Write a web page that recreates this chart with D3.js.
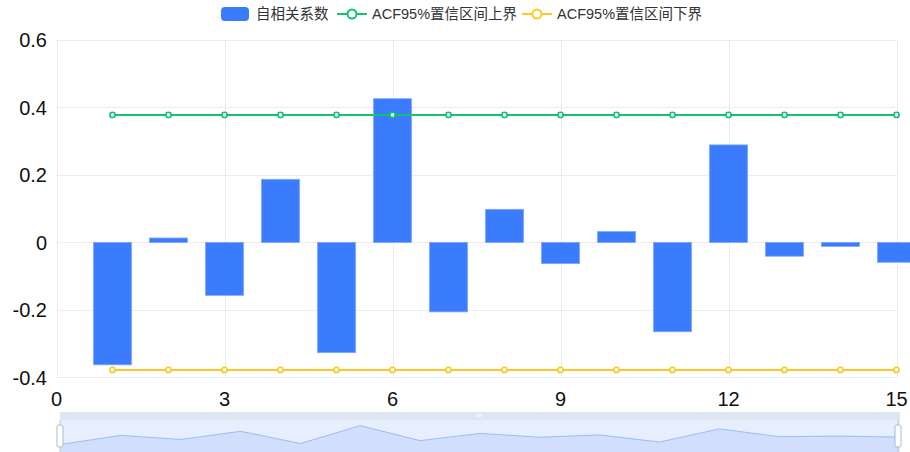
<!DOCTYPE html>
<html>
<head>
<meta charset="utf-8">
<script src="https://cdn.jsdelivr.net/npm/d3@7/dist/d3.min.js"></script>
<style>
  html, body { margin: 0; padding: 0; background: #fff; }
  svg { display: block; }
</style>
</head>
<body>
<div id="chart"></div>
<script>
// lag numbers and series values
const lags = [1, 2, 3, 4, 5, 6, 7, 8, 9, 10, 11, 12, 13, 14, 15];
const acf = [-0.363, 0.013, -0.157, 0.187, -0.327, 0.426, -0.206, 0.098, -0.063, 0.032, -0.265, 0.289, -0.041, -0.012, -0.059];
const upper = [0.378, 0.378, 0.378, 0.378, 0.378, 0.378, 0.378, 0.378, 0.378, 0.378, 0.378, 0.378, 0.378, 0.378, 0.378];
const lower = [-0.378, -0.378, -0.378, -0.378, -0.378, -0.378, -0.378, -0.378, -0.378, -0.378, -0.378, -0.378, -0.378, -0.378, -0.378];
const xTicks = [0, 3, 6, 9, 12, 15];
const yTicks = [-0.4, -0.2, 0, 0.2, 0.4, 0.6];
const seriesNames = ["自相关系数", "ACF95%置信区间上界", "ACF95%置信区间下界"];

const W = 910, H = 452;
const blue = "#3b7cff", green = "#12c26d", yellow = "#ffc823";
const fontLatin = "'Liberation Sans', Arial, sans-serif";
const fontCjk = "'Liberation Sans', 'Noto Sans CJK SC', sans-serif";

const svg = d3.select("#chart").append("svg")
  .attr("width", W)
  .attr("height", H);

const x = d3.scaleLinear().domain([0, 15]).range([56.5, 896.5]);
const y = d3.scaleLinear().domain([-0.4, 0.6]).range([377.3, 40]);
const barW = 38;

// grid lines
const grid = svg.append("g");
grid.selectAll("line.h")
  .data(yTicks)
  .join("line")
  .attr("class", "h")
  .attr("x1", x(0)).attr("x2", x(15))
  .attr("y1", d => Math.round(y(d)) + 0.5).attr("y2", d => Math.round(y(d)) + 0.5)
  .attr("stroke", "#eaecf2");
grid.selectAll("line.v")
  .data(xTicks)
  .join("line")
  .attr("class", "v")
  .attr("y1", y(0.6)).attr("y2", y(-0.4))
  .attr("x1", d => Math.round(x(d)) + 0.5).attr("x2", d => Math.round(x(d)) + 0.5)
  .attr("stroke", "#eaecf2");

// y labels
svg.append("g")
  .selectAll("text")
  .data(yTicks)
  .join("text")
  .attr("x", 47)
  .attr("y", d => y(d))
  .attr("dy", "0.36em")
  .attr("text-anchor", "end")
  .attr("font-family", fontLatin)
  .attr("font-size", 20)
  .attr("fill", "#111")
  .text(d => d === 0 ? "0" : d.toFixed(1));

// x labels
svg.append("g")
  .selectAll("text")
  .data(xTicks)
  .join("text")
  .attr("x", d => x(d))
  .attr("y", 406)
  .attr("text-anchor", "middle")
  .attr("font-family", fontLatin)
  .attr("font-size", 20)
  .attr("fill", "#111")
  .text(d => d);

// bars
svg.append("g")
  .selectAll("rect")
  .data(lags)
  .join("rect")
  .attr("x", (d, i) => x(d) - barW / 2)
  .attr("y", (d, i) => y(Math.max(0, acf[i])))
  .attr("width", barW)
  .attr("height", (d, i) => Math.abs(y(acf[i]) - y(0)))
  .attr("fill", blue)
  .attr("stroke", "#7ea6ff")
  .attr("stroke-width", 0.8);

// confidence lines
function drawLine(vals, color) {
  const g = svg.append("g");
  g.append("path")
    .datum(lags)
    .attr("d", d3.line().x(d => x(d)).y((d, i) => y(vals[i])))
    .attr("fill", "none")
    .attr("stroke", color)
    .attr("stroke-width", 2);
  g.selectAll("circle")
    .data(lags)
    .join("circle")
    .attr("cx", d => x(d))
    .attr("cy", (d, i) => y(vals[i]))
    .attr("r", 2.6)
    .attr("fill", "#fff")
    .attr("stroke", color)
    .attr("stroke-width", 1.6);
}
drawLine(upper, green);
drawLine(lower, yellow);

// legend
const legend = svg.append("g").attr("font-family", fontCjk).attr("font-size", 14.5).attr("fill", "#333");
const legendX = [221, 337, 522];
const legendColors = [blue, green, yellow];
seriesNames.forEach((name, i) => {
  const g = legend.append("g").attr("transform", `translate(${legendX[i]},14)`);
  if (i === 0) {
    g.append("rect")
      .attr("x", 0).attr("y", -7)
      .attr("width", 28).attr("height", 14)
      .attr("rx", 4)
      .attr("fill", legendColors[i]);
  } else {
    g.append("line")
      .attr("x1", 0).attr("x2", 30)
      .attr("y1", 0).attr("y2", 0)
      .attr("stroke", legendColors[i])
      .attr("stroke-width", 2);
    g.append("circle")
      .attr("cx", 15).attr("cy", 0)
      .attr("r", 4.5)
      .attr("fill", "#fff")
      .attr("stroke", legendColors[i])
      .attr("stroke-width", 2);
  }
  g.append("text")
    .attr("x", 35)
    .attr("y", 0)
    .attr("dy", "0.36em")
    .text(name);
});

// data zoom slider
const zx0 = 60, zx1 = 900, zTop = 420, zBot = 450;
const zoom = svg.append("g");
zoom.append("rect")
  .attr("x", zx0).attr("y", 412)
  .attr("width", zx1 - zx0).attr("height", zTop - 412)
  .attr("fill", "#d2dbee").attr("opacity", 0.7);
zoom.append("rect")
  .attr("x", zx0).attr("y", zTop)
  .attr("width", zx1 - zx0).attr("height", zBot - zTop + 2)
  .attr("fill", "rgb(135,175,255)").attr("opacity", 0.2);

const sx = d3.scaleLinear().domain([1, 15]).range([zx0 + 1, zx1 - 1]);
const ext = d3.extent(acf);
const pad = (ext[1] - ext[0]) * 0.3;
const sy = d3.scaleLinear().domain([ext[0] - pad, ext[1] + pad]).range([zBot, zTop]);
zoom.append("path")
  .datum(lags)
  .attr("d", d3.area().x(d => sx(d)).y0(zBot + 2).y1((d, i) => sy(acf[i])))
  .attr("fill", "#8fb0f7").attr("opacity", 0.25);
zoom.append("path")
  .datum(lags)
  .attr("d", d3.line().x(d => sx(d)).y((d, i) => sy(acf[i])))
  .attr("fill", "none")
  .attr("stroke", "#9dbaf6").attr("stroke-width", 1);

// move handle grip
zoom.selectAll("rect.grip")
  .data([-2, 0, 2])
  .join("rect")
  .attr("class", "grip")
  .attr("x", d => 479 + d - 0.5).attr("y", 414)
  .attr("width", 1).attr("height", 3)
  .attr("fill", "#fff");

// end handles
[zx0, zx1 - 2].forEach(hx => {
  zoom.append("line")
    .attr("x1", hx).attr("x2", hx)
    .attr("y1", 420).attr("y2", 452)
    .attr("stroke", "#acb8d1").attr("stroke-width", 0.8);
  zoom.append("rect")
    .attr("x", hx - 3).attr("y", 425)
    .attr("width", 6).attr("height", 22)
    .attr("rx", 2)
    .attr("fill", "#fff")
    .attr("stroke", "#acb8d1")
    .attr("stroke-width", 1);
});
</script>
</body>
</html>
